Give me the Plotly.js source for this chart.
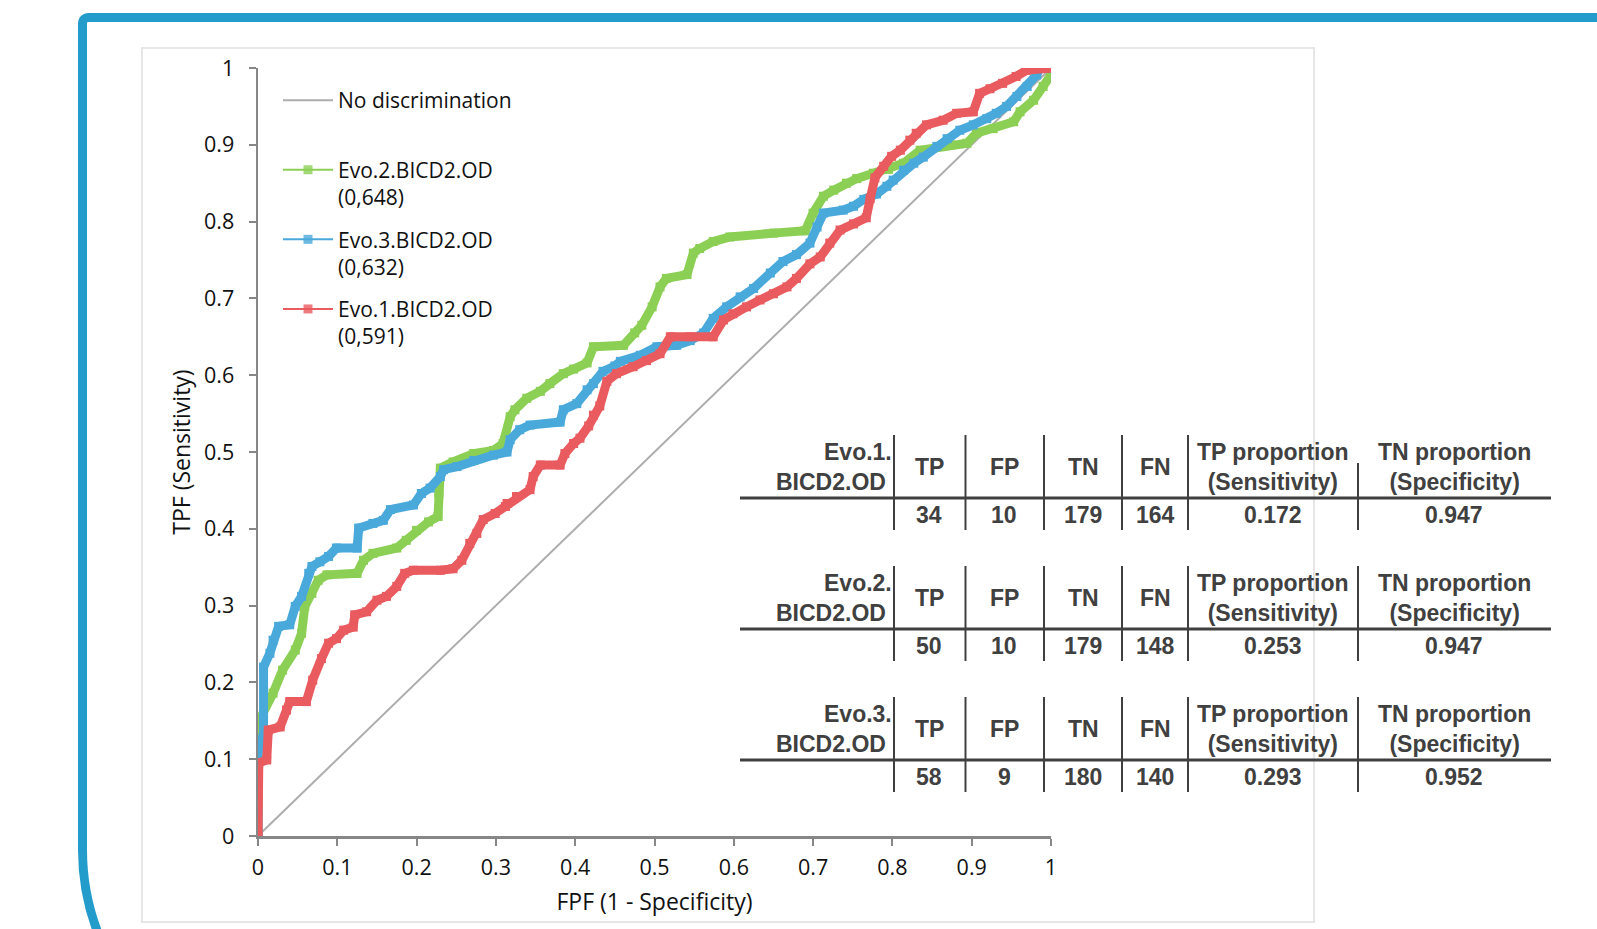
<!DOCTYPE html>
<html><head><meta charset="utf-8">
<script src="https://cdn.plot.ly/plotly-3.0.1.min.js"></script>
<style>html,body{margin:0;padding:0;background:#fff;overflow:hidden}#chart{width:1597px;height:929px}</style>
</head><body><div id="chart"></div>
<script>
// ---------- data ----------
const tickVals = [0, 0.1, 0.2, 0.3, 0.4, 0.5, 0.6, 0.7, 0.8, 0.9, 1];
const tickText = ['0', '0.1', '0.2', '0.3', '0.4', '0.5', '0.6', '0.7', '0.8', '0.9', '1'];

const noDiscX = [0, 1];
const noDiscY = [0, 1];

const evo2X = [0, 0, 0.019, 0.031, 0.047, 0.055, 0.059, 0.068, 0.076, 0.087, 0.125, 0.133, 0.145, 0.175, 0.187, 0.200, 0.215, 0.227, 0.228, 0.230, 0.246, 0.272, 0.297, 0.309, 0.318, 0.324, 0.339, 0.356, 0.368, 0.385, 0.398, 0.415, 0.423, 0.461, 0.475, 0.484, 0.497, 0.507, 0.515, 0.541, 0.549, 0.557, 0.574, 0.595, 0.650, 0.690, 0.700, 0.713, 0.726, 0.742, 0.755, 0.776, 0.795, 0.814, 0.835, 0.873, 0.894, 0.906, 0.927, 0.953, 0.961, 0.978, 0.990, 1.0, 1.0];
const evo2Y = [0, 0.147, 0.186, 0.216, 0.242, 0.264, 0.299, 0.316, 0.333, 0.340, 0.342, 0.359, 0.368, 0.375, 0.385, 0.398, 0.409, 0.416, 0.446, 0.479, 0.487, 0.498, 0.502, 0.511, 0.546, 0.555, 0.570, 0.579, 0.589, 0.602, 0.608, 0.616, 0.637, 0.639, 0.655, 0.665, 0.689, 0.715, 0.726, 0.731, 0.759, 0.765, 0.774, 0.780, 0.785, 0.788, 0.811, 0.833, 0.841, 0.850, 0.856, 0.863, 0.868, 0.876, 0.893, 0.900, 0.902, 0.915, 0.921, 0.930, 0.943, 0.958, 0.976, 0.991, 1.0];

const evo3X = [0, 0, 0.007, 0.007, 0.015, 0.019, 0.026, 0.040, 0.047, 0.055, 0.064, 0.068, 0.078, 0.089, 0.099, 0.125, 0.127, 0.145, 0.158, 0.167, 0.196, 0.206, 0.217, 0.230, 0.234, 0.251, 0.272, 0.297, 0.314, 0.318, 0.330, 0.343, 0.381, 0.385, 0.402, 0.415, 0.423, 0.435, 0.450, 0.457, 0.482, 0.503, 0.528, 0.545, 0.562, 0.574, 0.591, 0.608, 0.625, 0.646, 0.662, 0.679, 0.696, 0.705, 0.713, 0.738, 0.751, 0.764, 0.780, 0.793, 0.801, 0.814, 0.827, 0.839, 0.856, 0.869, 0.885, 0.902, 0.919, 0.931, 0.944, 0.957, 0.970, 0.982, 0.986, 1.0];
const evo3Y = [0, 0.108, 0.134, 0.220, 0.238, 0.255, 0.273, 0.275, 0.299, 0.312, 0.342, 0.351, 0.357, 0.364, 0.375, 0.375, 0.401, 0.407, 0.411, 0.425, 0.431, 0.446, 0.453, 0.468, 0.477, 0.481, 0.489, 0.496, 0.500, 0.516, 0.529, 0.535, 0.539, 0.555, 0.563, 0.581, 0.589, 0.605, 0.612, 0.618, 0.626, 0.637, 0.639, 0.645, 0.655, 0.674, 0.689, 0.702, 0.713, 0.733, 0.748, 0.757, 0.772, 0.793, 0.811, 0.815, 0.820, 0.829, 0.836, 0.846, 0.854, 0.867, 0.876, 0.884, 0.898, 0.908, 0.919, 0.926, 0.934, 0.941, 0.950, 0.963, 0.976, 0.991, 1.0, 1.0];

const evo1X = [0, 0.001, 0.011, 0.013, 0.028, 0.036, 0.040, 0.061, 0.069, 0.080, 0.089, 0.099, 0.108, 0.120, 0.122, 0.137, 0.150, 0.162, 0.175, 0.185, 0.196, 0.230, 0.246, 0.257, 0.267, 0.276, 0.284, 0.299, 0.312, 0.314, 0.326, 0.343, 0.347, 0.356, 0.381, 0.387, 0.398, 0.406, 0.417, 0.423, 0.431, 0.440, 0.452, 0.473, 0.490, 0.507, 0.520, 0.545, 0.574, 0.587, 0.599, 0.616, 0.633, 0.650, 0.667, 0.679, 0.696, 0.709, 0.721, 0.734, 0.751, 0.767, 0.772, 0.778, 0.789, 0.799, 0.810, 0.822, 0.830, 0.843, 0.864, 0.881, 0.902, 0.910, 0.923, 0.939, 0.956, 0.969, 0.986, 1.0];
const evo1Y = [0, 0.095, 0.099, 0.138, 0.142, 0.164, 0.175, 0.175, 0.203, 0.231, 0.251, 0.257, 0.268, 0.272, 0.288, 0.292, 0.307, 0.312, 0.325, 0.342, 0.346, 0.346, 0.348, 0.359, 0.381, 0.394, 0.412, 0.420, 0.429, 0.433, 0.442, 0.451, 0.468, 0.483, 0.483, 0.498, 0.511, 0.518, 0.534, 0.548, 0.560, 0.592, 0.602, 0.611, 0.619, 0.628, 0.650, 0.650, 0.650, 0.672, 0.680, 0.689, 0.698, 0.706, 0.715, 0.726, 0.745, 0.754, 0.772, 0.789, 0.797, 0.805, 0.830, 0.857, 0.872, 0.885, 0.893, 0.906, 0.915, 0.926, 0.932, 0.941, 0.943, 0.967, 0.973, 0.980, 0.989, 0.997, 1.0, 1.0];

const seriesNames = ['No discrimination<br> ', 'Evo.2.BICD2.OD<br>(0,648)', 'Evo.3.BICD2.OD<br>(0,632)', 'Evo.1.BICD2.OD<br>(0,591)'];

const tableNames = ['Evo.1.', 'Evo.2.', 'Evo.3.'];
const tableSubName = 'BICD2.OD';
const tableHeaders = ['TP', 'FP', 'TN', 'FN', 'TP proportion<br>(Sensitivity)', 'TN proportion<br>(Specificity)'];
const tpVals = [34, 50, 58];
const fpVals = [10, 10, 9];
const tnVals = [179, 179, 180];
const fnVals = [164, 148, 140];
const sensVals = ['0.172', '0.253', '0.293'];
const specVals = ['0.947', '0.947', '0.952'];

// ---------- layout geometry ----------
const FW = 1597, FH = 929;
const PL = 258, PR = 1051, PT = 68, PB = 836;
const PW = PR - PL, PH = PB - PT;
const px = p => (p - PL) / PW;
const py = p => (PB - p) / PH;

const GREEN = '#8ccf55', BLUE = '#4aa9db', RED = '#e95b5f';
const TXT = '#404040';
const tickFont = {family: 'Open Sans, DejaVu Sans, sans-serif', size: 21.5, color: '#111'};
const titleFont = {family: 'Open Sans, DejaVu Sans, sans-serif', size: 23, color: '#111'};

const traces = [];
traces.push({x: noDiscX, y: noDiscY, mode: 'lines', name: seriesNames[0], line: {color: '#adadad', width: 2}, showlegend: true, legendgroup: 'a', hoverinfo: 'skip'});
const series = [[evo2X, evo2Y, GREEN], [evo3X, evo3Y, BLUE], [evo1X, evo1Y, RED]];
series.forEach(s => {
  traces.push({x: s[0], y: s[1], mode: 'lines+markers', showlegend: false,
    line: {color: s[2], width: 9}, marker: {symbol: 'square', size: 9, color: s[2]}, hoverinfo: 'skip'});
});
series.forEach((s, i) => {
  traces.push({x: [null], y: [null], mode: 'lines+markers', name: seriesNames[i + 1], legendgroup: 'g' + i,
    line: {color: s[2], width: 2}, marker: {symbol: 'square', size: 9, color: s[2], opacity: 0.8}});
});

// ---------- shapes ----------
const shapes = [];
const fp = (x, y) => px(x).toFixed(5) + ',' + py(y).toFixed(5);
shapes.push({type: 'path', xref: 'paper', yref: 'paper', layer: 'below',
  path: 'M' + fp(1620, 17.5) + ' L' + fp(89, 17.5) + ' Q' + fp(82.5, 17.5) + ' ' + fp(82.5, 24) +
        ' L' + fp(82.5, 850) + ' C' + fp(82.5, 977) + ' ' + fp(185.5, 1080) + ' ' + fp(312.5, 1080),
  line: {color: '#239ccb', width: 9}, fillcolor: 'rgba(0,0,0,0)'});
shapes.push({type: 'rect', xref: 'paper', yref: 'paper', layer: 'below',
  x0: px(142), x1: px(1314), y0: py(922), y1: py(48), line: {color: '#e6e6e6', width: 2}});

// ---------- tables ----------
const annotations = [];
const colX = [929, 1004, 1083, 1155, 1273, 1454];
const sepX = [894, 965.5, 1044, 1122, 1188, 1358];
const tFont = {family: 'Liberation Sans, Arial, sans-serif', size: 23, color: TXT, weight: 'bold'};
for (let k = 0; k < 3; k++) {
  const off = k * 131;
  const top = 435 + off, hl = 498 + off, bot = 530 + off, hy = 467 + off, dy = 515 + off;
  shapes.push({type: 'line', xref: 'paper', yref: 'paper', x0: px(740), x1: px(1551), y0: py(hl), y1: py(hl), line: {color: TXT, width: 3}});
  sepX.forEach((sx, j) => {
    const t = (k === 0 && j === 5) ? top + 28 : top;
    shapes.push({type: 'line', xref: 'paper', yref: 'paper', x0: px(sx), x1: px(sx), y0: py(t), y1: py(bot), line: {color: TXT, width: 2}});
  });
  annotations.push({xref: 'paper', yref: 'paper', x: px(894), y: py(452 + off), xanchor: 'right', yanchor: 'middle', text: tableNames[k], showarrow: false, font: tFont});
  annotations.push({xref: 'paper', yref: 'paper', x: px(888), y: py(482 + off), xanchor: 'right', yanchor: 'middle', text: tableSubName, showarrow: false, font: tFont});
  tableHeaders.forEach((h, j) => {
    annotations.push({xref: 'paper', yref: 'paper', x: px(colX[j]), y: py(hy), xanchor: 'center', yanchor: 'middle', text: h, showarrow: false, font: tFont});
  });
  const row = [tpVals[k], fpVals[k], tnVals[k], fnVals[k], sensVals[k], specVals[k]];
  row.forEach((v, j) => {
    annotations.push({xref: 'paper', yref: 'paper', x: px(colX[j]), y: py(dy), xanchor: 'center', yanchor: 'middle', text: String(v), showarrow: false, font: tFont});
  });
}

const axisCommon = {
  range: [0, 1], tickmode: 'array', tickvals: tickVals, ticktext: tickText,
  showgrid: false, zeroline: false, showline: true, linecolor: '#878787', linewidth: 2.5,
  ticks: 'outside', ticklen: 7, tickwidth: 2, tickcolor: '#878787', tickfont: tickFont, fixedrange: true
};

const layout = {
  width: FW, height: FH,
  margin: {l: PL, r: FW - PR, t: PT, b: FH - PB, pad: 0},
  paper_bgcolor: '#ffffff', plot_bgcolor: 'rgba(0,0,0,0)',
  font: tickFont,
  xaxis: Object.assign({}, axisCommon, {title: {text: 'FPF (1 - Specificity)', font: titleFont, standoff: 14}, ticklabelstandoff: 4}),
  yaxis: Object.assign({}, axisCommon, {title: {text: 'TPF (Sensitivity)', font: titleFont, standoff: 7}, ticklabelstandoff: 10}),
  showlegend: true,
  legend: {x: px(278), y: py(80), xanchor: 'left', yanchor: 'top', bgcolor: 'rgba(0,0,0,0)',
    font: {family: 'Open Sans, DejaVu Sans, sans-serif', size: 21, color: '#111'},
    traceorder: 'grouped', tracegroupgap: 12, valign: 'top', itemwidth: 50},
  shapes: shapes,
  annotations: annotations
};

Plotly.newPlot('chart', traces, layout, {displayModeBar: false, staticPlot: true});
</script>
</body></html>
